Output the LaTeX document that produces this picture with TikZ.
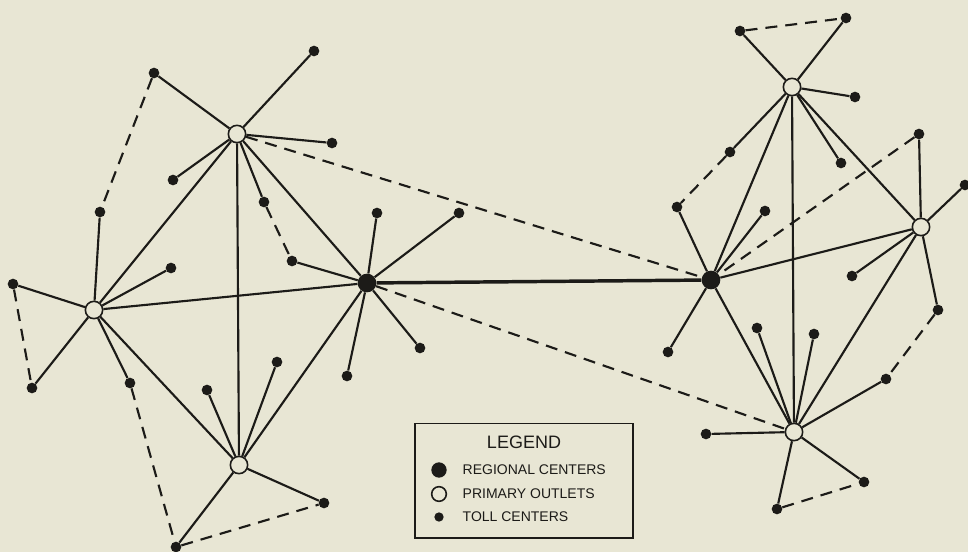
\documentclass[tikz,border=0pt]{standalone}
\usepackage{fontspec}
\setmainfont{Liberation Sans}
\usepackage{tikz}
\definecolor{paper}{RGB}{232,230,212}
\definecolor{ink}{RGB}{28,27,24}

\begin{document}
\begin{tikzpicture}[x=0.75pt,y=-0.75pt,
    regional/.style={circle,fill=ink,minimum size=14pt,inner sep=0pt},
    primary/.style={circle,draw=ink,line width=1.2pt,fill=paper,minimum size=13pt,inner sep=0pt},
    toll/.style={circle,fill=ink,minimum size=8pt,inner sep=0pt},
    link/.style={draw=ink,line width=1.6pt},
    trunk/.style={draw=ink,line width=1.6pt,dash pattern=on 9pt off 6pt}]
\fill[paper] (0,0) rectangle (968,552);
\useasboundingbox (0,0) rectangle (968,552);
% regional centers
\node[regional] (r1) at (367,283) {};
\node[regional] (r2) at (711,280) {};
% primary outlets
\node[primary] (p1) at (237,134) {};
\node[primary] (p2) at (94,310) {};
\node[primary] (p3) at (239,465) {};
\node[primary] (p4) at (792,87) {};
\node[primary] (p5) at (921,227) {};
\node[primary] (p6) at (794,432) {};
% toll centers
\node[toll] (t1) at (154,73) {};
\node[toll] (t2) at (314,51) {};
\node[toll] (t3) at (332,143) {};
\node[toll] (t4) at (173,180) {};
\node[toll] (t5) at (264,202) {};
\node[toll] (t6) at (100,212) {};
\node[toll] (t7) at (171,268) {};
\node[toll] (t8) at (13,284) {};
\node[toll] (t9) at (32,388) {};
\node[toll] (t10) at (130,383) {};
\node[toll] (t11) at (292,261) {};
\node[toll] (t12) at (377,213) {};
\node[toll] (t13) at (459,213) {};
\node[toll] (t14) at (420,348) {};
\node[toll] (t15) at (347,376) {};
\node[toll] (t16) at (207,390) {};
\node[toll] (t17) at (277,362) {};
\node[toll] (t18) at (324,503) {};
\node[toll] (t19) at (176,547) {};
\node[toll] (t20) at (740,31) {};
\node[toll] (t21) at (846,18) {};
\node[toll] (t22) at (855,97) {};
\node[toll] (t23) at (730,152) {};
\node[toll] (t24) at (841,163) {};
\node[toll] (t25) at (677,207) {};
\node[toll] (t26) at (765,211) {};
\node[toll] (t27) at (668,352) {};
\node[toll] (t28) at (919,134) {};
\node[toll] (t29) at (965,185) {};
\node[toll] (t30) at (852,276) {};
\node[toll] (t31) at (938,310) {};
\node[toll] (t32) at (757,328) {};
\node[toll] (t33) at (814,334) {};
\node[toll] (t34) at (886,379) {};
\node[toll] (t35) at (706,434) {};
\node[toll] (t36) at (864,482) {};
\node[toll] (t37) at (777,509) {};
% backbone
\draw[link,line width=2.6pt] (r1) -- (r2);
\draw[link] (p1) -- (p2);
\draw[link] (p1) -- (p3);
\draw[link] (p1) -- (r1);
\draw[link] (p2) -- (r1);
\draw[link] (p2) -- (p3);
\draw[link] (p3) -- (r1);
\draw[link] (p4) -- (r2);
\draw[link] (p4) -- (p5);
\draw[link] (p4) -- (p6);
\draw[link] (p5) -- (r2);
\draw[link] (p5) -- (p6);
\draw[link] (p6) -- (r2);
% toll links
\foreach \t in {t1,t2,t3,t4,t5} \draw[link] (p1) -- (\t);
\foreach \t in {t6,t7,t8,t9,t10} \draw[link] (p2) -- (\t);
\foreach \t in {t11,t12,t13,t14,t15} \draw[link] (r1) -- (\t);
\foreach \t in {t16,t17,t18,t19} \draw[link] (p3) -- (\t);
\foreach \t in {t20,t21,t22,t23,t24} \draw[link] (p4) -- (\t);
\foreach \t in {t25,t26,t27} \draw[link] (r2) -- (\t);
\foreach \t in {t28,t29,t30,t31} \draw[link] (p5) -- (\t);
\foreach \t in {t32,t33,t34,t35,t36,t37} \draw[link] (p6) -- (\t);
% high usage trunks
\draw[trunk] (p1) -- (r2);
\draw[trunk] (r1) -- (p6);
\draw[trunk] (t28) -- (r2);
\draw[trunk] (t1) -- (t6);
\draw[trunk] (t5) -- (t11);
\draw[trunk] (t8) -- (t9);
\draw[trunk] (t10) -- (t19);
\draw[trunk] (t19) -- (t18);
\draw[trunk] (t20) -- (t21);
\draw[trunk] (t23) -- (t25);
\draw[trunk] (t31) -- (t34);
\draw[trunk] (t37) -- (t36);
% legend
\node[draw=ink,line width=1pt,fill=paper,minimum width=163.5pt,minimum height=86pt] (legend) at (524,480.5) {};
\node[text=ink,font=\fontsize{13.5}{16}\selectfont] (title) at (524,442) {LEGEND};
\node[regional,minimum size=11.5pt] (k1) at (439,470) {};
\node[primary,minimum size=11pt] (k2) at (439,494) {};
\node[toll,minimum size=7pt] (k3) at (439,517) {};
\node[anchor=west,text=ink,font=\fontsize{10.5}{12}\selectfont] (k1text) at (458,470) {REGIONAL CENTERS};
\node[anchor=west,text=ink,font=\fontsize{10.5}{12}\selectfont] (k2text) at (458,494) {PRIMARY OUTLETS};
\node[anchor=west,text=ink,font=\fontsize{10.5}{12}\selectfont] (k3text) at (458,517) {TOLL CENTERS};
\end{tikzpicture}
\end{document}
